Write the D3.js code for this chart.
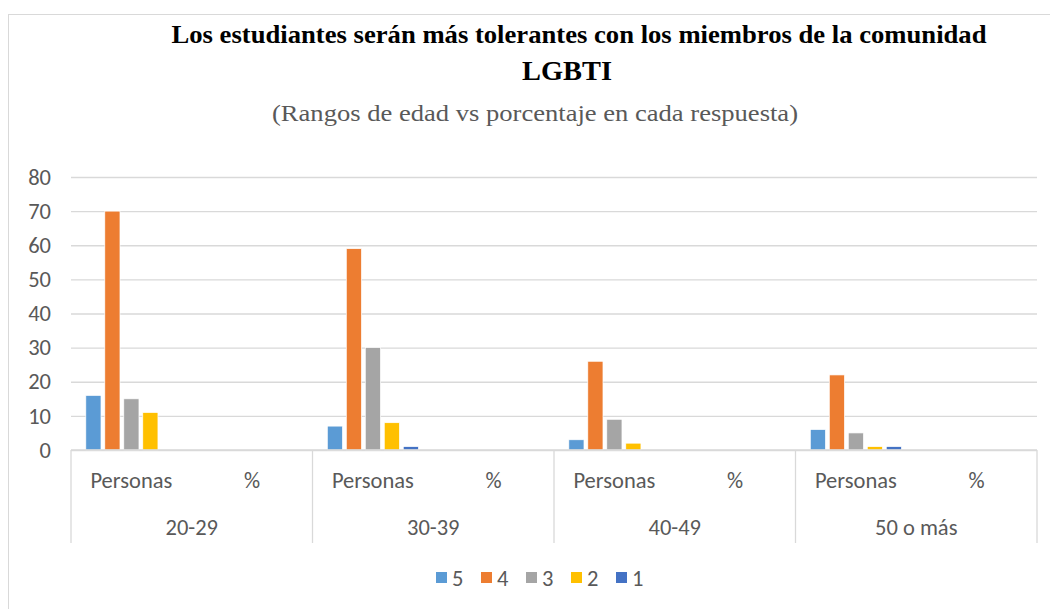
<!DOCTYPE html>
<html><head><meta charset="utf-8">
<script src="https://cdn.jsdelivr.net/npm/d3@7"></script>
<style>body{margin:0;background:#fff}svg{display:block}</style>
</head><body><svg id="c" width="1050" height="609"></svg>
<script>
const groups = ["20-29","30-39","40-49","50 o más"];
const subcats = ["Personas","%"];
const seriesNames = ["5","4","3","2","1"];
const colors = ["#5B9BD5","#ED7D31","#A5A5A5","#FFC000","#4472C4"];
// values per series, per group: [Personas, %]
const s5 = [[16,0],[7,0],[3,0],[6,0]];
const s4 = [[70,0],[59,0],[26,0],[22,0]];
const s3 = [[15,0],[30,0],[9,0],[5,0]];
const s2 = [[11,0],[8,0],[2,0],[1,0]];
const s1 = [[0,0],[1,0],[0,0],[1,0]];
const yTicks = [0,10,20,30,40,50,60,70,80];
const title1 = "Los estudiantes serán más tolerantes con los miembros de la comunidad";
const title2 = "LGBTI";
const subtitle = "(Rangos de edad vs porcentaje en cada respuesta)";

(function(){
const allSeries = [s5,s4,s3,s2,s1];
const svg = d3.select("#c");
const sans = "Carlito, Calibri, Lato, sans-serif";
const serif = "Liberation Serif, Times New Roman, serif";
const fs = 22.5;
const pLeft = 71, pRight = 1037, pTop = 177, pBottom = 450;

svg.append("rect").attr("x",8.5).attr("y",14.5).attr("width",1060).attr("height",620)
  .attr("fill","#fff").attr("stroke","#D9D9D9");

svg.append("text").attr("x",579).attr("y",43).attr("text-anchor","middle")
  .attr("font-family",serif).attr("font-weight","bold")
  .attr("font-size",26).attr("fill","#000").attr("textLength",815).attr("lengthAdjust","spacingAndGlyphs").text(title1);
svg.append("text").attr("x",567).attr("y",80).attr("text-anchor","middle")
  .attr("font-family",serif).attr("font-weight","bold")
  .attr("font-size",27).attr("fill","#000").attr("textLength",90).attr("lengthAdjust","spacingAndGlyphs").text(title2);
svg.append("text").attr("x",535).attr("y",121).attr("text-anchor","middle")
  .attr("font-family",serif)
  .attr("font-size",24).attr("fill","#595959").attr("textLength",526).attr("lengthAdjust","spacingAndGlyphs").text(subtitle);

const y = d3.scaleLinear().domain([0,80]).range([pBottom, pTop]);
const x0 = d3.scaleBand().domain(groups).range([pLeft,pRight]);
const x1 = d3.scaleBand().domain(subcats).range([0,x0.bandwidth()]);
const x2 = d3.scaleBand().domain(seriesNames).range([0,x1.bandwidth()]).paddingInner(0.2).paddingOuter(0.78);

const yAxis = d3.axisLeft(y).tickValues(yTicks).tickSize(-(pRight-pLeft)).tickFormat(d3.format("d"));
const ga = svg.append("g").attr("transform",`translate(${pLeft},0)`).call(yAxis);
ga.select(".domain").remove();
ga.selectAll(".tick line").attr("stroke","#D9D9D9").attr("stroke-width",1.3);
ga.selectAll(".tick text").attr("x",-20).attr("font-family",sans).attr("font-size",fs).attr("fill","#595959");

const data = [];
groups.forEach((g,gi)=>subcats.forEach((s,si)=>seriesNames.forEach((n,ni)=>{
  data.push({g,s,n,ni,v:allSeries[ni][gi][si]});
})));
svg.append("g").selectAll("rect").data(data.filter(d=>d.v>0)).join("rect")
  .attr("x",d=>x0(d.g)+x1(d.s)+x2(d.n))
  .attr("y",d=>y(d.v))
  .attr("width",x2.bandwidth())
  .attr("height",d=>pBottom-y(d.v))
  .attr("fill",d=>colors[d.ni])
  .attr("stroke","#fff").attr("stroke-width",0.7);

svg.append("line").attr("x1",pLeft).attr("x2",pRight).attr("y1",pBottom).attr("y2",pBottom)
  .attr("stroke","#D9D9D9").attr("stroke-width",1.3);
const seps = groups.map(g=>x0(g)).concat([pRight]);
svg.append("g").selectAll("line").data(seps).join("line")
  .attr("x1",d=>d).attr("x2",d=>d).attr("y1",pBottom).attr("y2",543)
  .attr("stroke","#D9D9D9").attr("stroke-width",1.3);
groups.forEach(g=>{
  subcats.forEach(s=>{
    svg.append("text").attr("x",x0(g)+x1(s)+x1.bandwidth()/2).attr("y",488)
      .attr("text-anchor","middle").attr("font-family",sans).attr("font-size",fs).attr("fill","#595959").text(s);
  });
  svg.append("text").attr("x",x0(g)+x0.bandwidth()/2).attr("y",535)
    .attr("text-anchor","middle").attr("font-family",sans).attr("font-size",fs).attr("fill","#595959").text(g);
});

const legX = [436,481,526,571,616];
const lg = svg.append("g");
seriesNames.forEach((n,i)=>{
  lg.append("rect").attr("x",legX[i]).attr("y",572).attr("width",11).attr("height",11).attr("fill",colors[i]);
  lg.append("text").attr("x",legX[i]+16).attr("y",586).attr("font-family",sans).attr("font-size",fs).attr("fill","#595959").text(n);
});
})();
</script></body></html>
